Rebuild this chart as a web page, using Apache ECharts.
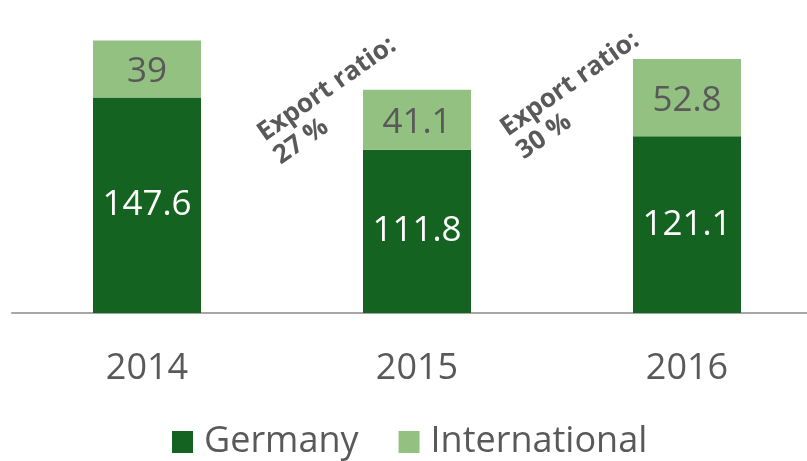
<!DOCTYPE html>
<html><head><meta charset="utf-8">
<script src="https://cdn.jsdelivr.net/npm/echarts@6/dist/echarts.min.js"></script>
<style>html,body{margin:0;padding:0;background:#fff}#c{width:807px;height:461px}</style>
</head><body><div id="c"></div>
<script>
const categories = ['2014', '2015', '2016'];
const germany = [147.6, 111.8, 121.1];
const international = [39, 41.1, 52.8];
const exportNotes = ['Export ratio:\n27 %', 'Export ratio:\n30 %'];

const chart = echarts.init(document.getElementById('c'), null, {renderer: 'canvas'});
const FONT = '"Open Sans", sans-serif';
const GREY = '#595959';
const rot = 35 * Math.PI / 180;
function note(text, x, y) {
  const lines = text.split('\n');
  return lines.map((t, i) => ({
    type: 'text',
    x: x + Math.sin(rot) * 28 * i,
    y: y + Math.cos(rot) * 28 * i,
    rotation: rot,
    style: {text: t, x: 0, y: 0, fill: GREY, font: 'bold 26px ' + FONT, textAlign: 'left', textVerticalAlign: 'alphabetic'}
  }));
}
chart.setOption({
  animation: false,
  textStyle: {fontFamily: FONT},
  grid: {left: 12, width: 810, top: 21, bottom: 148, containLabel: false, outerBoundsMode: 'none'},
  xAxis: {
    type: 'category', data: categories,
    axisLine: {lineStyle: {color: '#a6a6a6', width: 2}},
    axisTick: {show: false},
    axisLabel: {color: GREY, fontSize: 36, margin: 38, fontFamily: FONT}
  },
  yAxis: {type: 'value', min: 0, max: 200, show: false, splitLine: {show: false}},
  legend: {
    left: 167, top: 419, itemWidth: 21, itemHeight: 22, itemGap: 40,
    icon: 'rect',
    textStyle: {color: GREY, fontSize: 36, fontFamily: FONT, padding: [0, 0, 0, 6]},
    data: ['Germany', 'International']
  },
  series: [
    {name: 'Germany', type: 'bar', stack: 's', barWidth: 108, data: germany,
     itemStyle: {color: '#156321'},
     label: {show: true, position: 'inside', color: '#fff', fontSize: 35, fontFamily: FONT}},
    {name: 'International', type: 'bar', stack: 's', barWidth: 108, data: international,
     itemStyle: {color: '#93c181'},
     label: {show: true, position: 'inside', color: GREY, fontSize: 35, fontFamily: FONT, offset: [0, 3]}}
  ],
  graphic: [].concat(note(exportNotes[0], 253, 125), note(exportNotes[1], 496, 120))
});
</script></body></html>
